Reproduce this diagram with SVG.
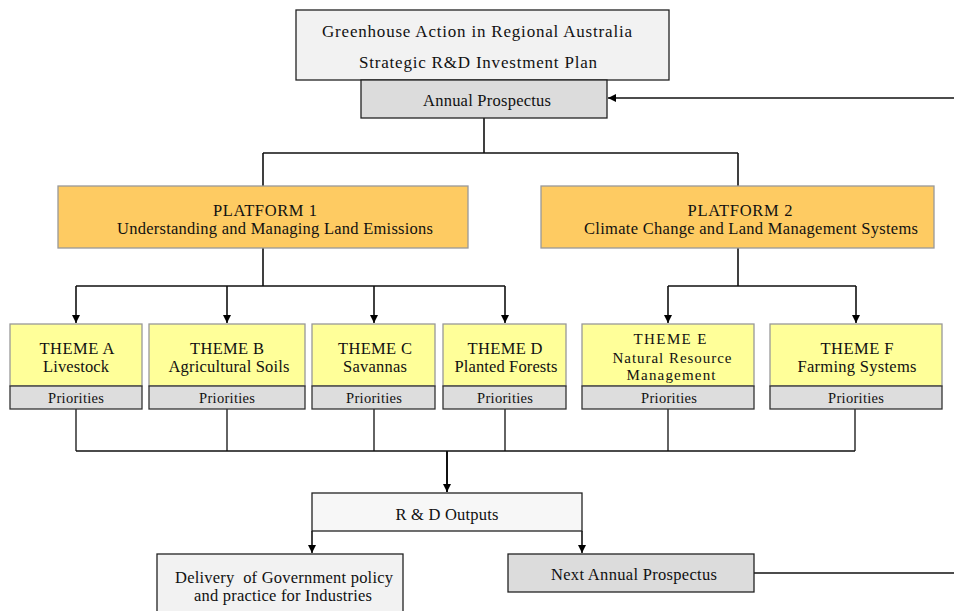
<svg xmlns="http://www.w3.org/2000/svg" width="954" height="611" viewBox="0 0 954 611">
<style>
text{font-family:"Liberation Serif","Times New Roman",serif;fill:#111;text-anchor:middle;font-size:16.5px}
.t13{font-size:14.5px}
.big{font-size:17px}
.e{font-size:15px}
.box{stroke:#222;stroke-width:1.3}
.light{fill:#f2f2f2}
.grey{fill:#dcdcdc}
.plat{fill:#fecb62;stroke:#999;stroke-width:1.3}
.theme{fill:#ffff99;stroke:#999;stroke-width:1.3}
.pri{fill:#dddddd;stroke:#333;stroke-width:1.3}
.ln{fill:none;stroke:#111;stroke-width:1.6}
</style>
<defs>
<marker id="ah" viewBox="0 0 10 10" refX="10" refY="5" markerWidth="8" markerHeight="8" markerUnits="userSpaceOnUse" orient="auto"><path d="M0,0 L10,5 L0,10 z" fill="#000"/></marker>
</defs>
<rect width="954" height="611" fill="#fff"/>
<g id="connectors">
<path class="ln" d="M954,98 H608" marker-end="url(#ah)" style="stroke-width:1.4"/>
<path class="ln" d="M484,118 V153 M263,153 H738 M263,153 V186 M738,153 V186"/>
<path class="ln" d="M263,248 V286 M76,286 H505"/>
<path class="ln" d="M76,286 V323" marker-end="url(#ah)"/>
<path class="ln" d="M227,286 V323" marker-end="url(#ah)"/>
<path class="ln" d="M374,286 V323" marker-end="url(#ah)"/>
<path class="ln" d="M505,286 V323" marker-end="url(#ah)"/>
<path class="ln" d="M738,248 V286 M668,286 H856"/>
<path class="ln" d="M668,286 V323" marker-end="url(#ah)"/>
<path class="ln" d="M856,286 V323" marker-end="url(#ah)"/>
<path class="ln" d="M76,409 V451 M227,409 V451 M374,409 V451 M505,409 V451 M668,409 V451 M855,409 V451 M76,451 H855" style="stroke-width:1.3"/>
<path class="ln" d="M447,451 V492" marker-end="url(#ah)" style="stroke-width:2"/>
<path class="ln" d="M312,531 V553" marker-end="url(#ah)"/>
<path class="ln" d="M582,531 V553" marker-end="url(#ah)"/>
<path class="ln" d="M754,573 H954" style="stroke-width:1.4"/>
</g>
<g id="plan">
<rect class="box light" x="296" y="10" width="373" height="70"/>
<text class="big" x="477" y="37" textLength="310">Greenhouse Action in Regional Australia</text>
<text class="big" x="478" y="68" textLength="238">Strategic R&amp;D Investment Plan</text>
</g>
<g id="prospectus">
<rect class="box grey" x="361" y="80" width="246" height="38"/>
<text x="487" y="106" textLength="128">Annual Prospectus</text>
</g>
<g id="platform1">
<rect class="plat" x="58" y="186" width="410" height="62"/>
<text x="265" y="216" textLength="104">PLATFORM 1</text>
<text x="275" y="234" textLength="316">Understanding and Managing Land Emissions</text>
</g>
<g id="platform2">
<rect class="plat" x="541" y="186" width="393" height="62"/>
<text x="740" y="216" textLength="105">PLATFORM 2</text>
<text x="751" y="234" textLength="334">Climate Change and Land Management Systems</text>
</g>
<g id="themeA">
<rect class="theme" x="10" y="324" width="132" height="62"/>
<text x="77" y="354" textLength="75">THEME A</text>
<text x="76" y="372" textLength="66">Livestock</text>
<rect class="pri" x="10" y="386" width="132" height="23"/>
<text class="t13" x="76" y="403" textLength="56">Priorities</text>
</g>
<g id="themeB">
<rect class="theme" x="149" y="324" width="156" height="62"/>
<text x="227" y="354" textLength="74">THEME B</text>
<text x="229" y="372" textLength="121">Agricultural Soils</text>
<rect class="pri" x="149" y="386" width="156" height="23"/>
<text class="t13" x="227" y="403" textLength="56">Priorities</text>
</g>
<g id="themeC">
<rect class="theme" x="312" y="324" width="123" height="62"/>
<text x="375" y="354" textLength="74">THEME C</text>
<text x="375" y="372" textLength="64">Savannas</text>
<rect class="pri" x="312" y="386" width="123" height="23"/>
<text class="t13" x="374" y="403" textLength="56">Priorities</text>
</g>
<g id="themeD">
<rect class="theme" x="443" y="324" width="123" height="62"/>
<text x="505" y="354" textLength="75">THEME D</text>
<text x="506" y="372" textLength="103">Planted Forests</text>
<rect class="pri" x="443" y="386" width="123" height="23"/>
<text class="t13" x="505" y="403" textLength="56">Priorities</text>
</g>
<g id="themeE">
<rect class="theme" x="582" y="324" width="172" height="62"/>
<text class="e" x="670" y="344" textLength="73">THEME E</text>
<text class="e" x="672" y="362.5" textLength="119">Natural Resource</text>
<text class="e" x="671" y="380" textLength="89">Management</text>
<rect class="pri" x="582" y="386" width="172" height="23"/>
<text class="t13" x="669" y="403" textLength="56">Priorities</text>
</g>
<g id="themeF">
<rect class="theme" x="770" y="324" width="172" height="62"/>
<text x="857" y="354" textLength="73">THEME F</text>
<text x="857" y="372" textLength="119">Farming Systems</text>
<rect class="pri" x="770" y="386" width="172" height="23"/>
<text class="t13" x="856" y="403" textLength="56">Priorities</text>
</g>
<g id="outputs">
<rect class="box" fill="#f7f7f7" x="312" y="493" width="270" height="38"/>
<text x="447" y="520" textLength="103">R &amp; D Outputs</text>
</g>
<g id="delivery">
<rect class="box light" x="157" y="554" width="246" height="62"/>
<text x="284" y="583" textLength="218" style="white-space:pre">Delivery  of Government policy</text>
<text x="283" y="601" textLength="178">and practice for Industries</text>
</g>
<g id="next">
<rect class="box grey" x="508" y="554" width="246" height="38"/>
<text x="634" y="580" textLength="166">Next Annual Prospectus</text>
</g>
</svg>
